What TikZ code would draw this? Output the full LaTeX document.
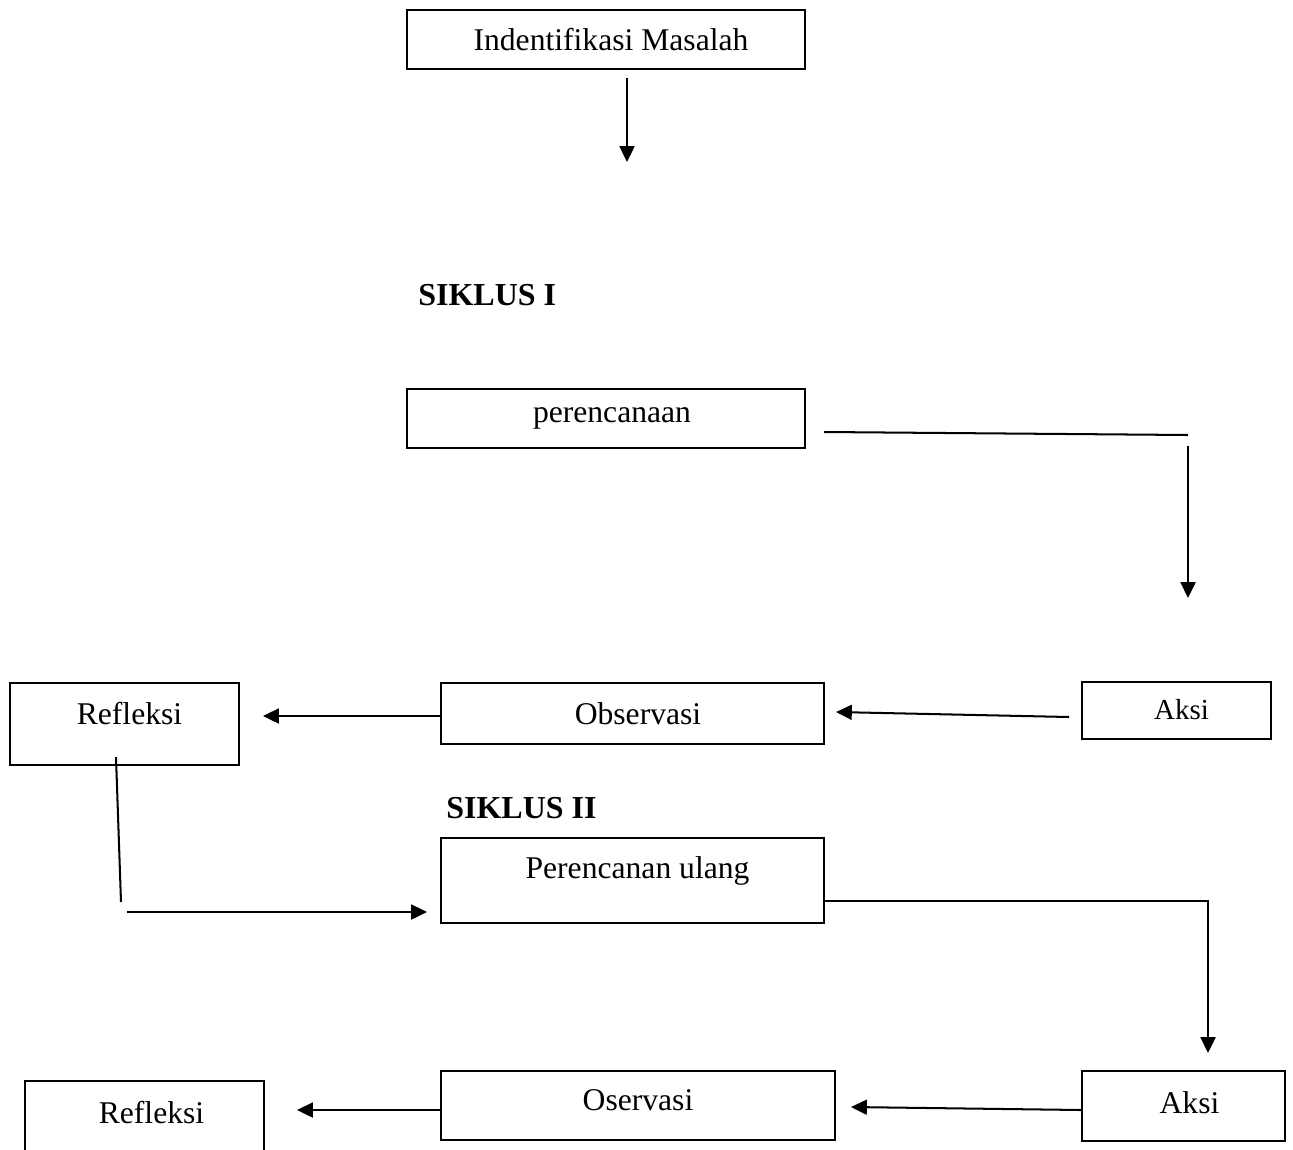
\documentclass[tikz,border=0pt]{standalone}
\usepackage{fontspec}
\setmainfont{Liberation Serif}
\usetikzlibrary{arrows.meta}
\newlength\pxl
\setlength\pxl{0.02cm}
\tikzset{
  box/.style={draw, line width=0.85pt, rectangle, inner sep=0pt, font=\fontsize{18}{22}\selectfont},
  title/.style={font=\fontsize{18.2}{22}\selectfont\bfseries, inner sep=0pt},
  arr/.style={line width=1.15pt, -{Triangle[length=9pt,width=8.5pt]}},
  ln/.style={line width=1.15pt},
}
\newcommand\up[2]{\raisebox{#1\pxl}{#2}}
\begin{document}
\begin{tikzpicture}[x=0.02cm, y=-0.02cm]
\useasboundingbox (0,0) rectangle (1293,1149);
\clip (0,0) rectangle (1293,1149);

% nodes
\node[box, minimum width=398\pxl, minimum height=59\pxl] (idm) at (606,39.5) {\hspace{10\pxl}Indentifikasi Masalah};
\node[title, anchor=west] (s1) at (418,295) {SIKLUS I};
\node[box, minimum width=398\pxl, minimum height=59\pxl] (per) at (606,418.5) {\up{3}{\hspace{12\pxl}perencanaan}};
\node[box, minimum width=189\pxl, minimum height=57\pxl, font=\fontsize{16.5}{20}\selectfont] (aksi1) at (1176.5,710.5) {\up{2}{\hspace{10\pxl}Aksi}};
\node[box, minimum width=383\pxl, minimum height=61\pxl] (obs) at (632.5,713.5) {\hspace{11\pxl}Observasi};
\node[box, minimum width=229\pxl, minimum height=82\pxl] (ref1) at (124.5,724) {\up{22}{\hspace{10\pxl}Refleksi}};
\node[title, anchor=west] (s2) at (446,808) {SIKLUS II};
\node[box, minimum width=383\pxl, minimum height=85\pxl] (pru) at (632.5,880.5) {\up{25}{\hspace{10\pxl}Perencanan ulang}};
\node[box, minimum width=203\pxl, minimum height=70\pxl] (aksi2) at (1183.5,1106) {\up{6}{\hspace{12\pxl}Aksi}};
\node[box, minimum width=394\pxl, minimum height=69\pxl] (osv) at (638,1105.5) {\up{11}{Oservasi}};
\node[box, minimum width=239\pxl, minimum height=100\pxl] (ref2) at (144.5,1131) {\up{38}{\hspace{14\pxl}Refleksi}};

% free ends
\coordinate (a1s) at (627,78);
\coordinate (a1e) at (627,162);
\coordinate (l1s) at (824,432);
\coordinate (l1e) at (1188,435);
\coordinate (a2s) at (1188,446);
\coordinate (a2e) at (1188,598);
\coordinate (a3s) at (1069,717);
\coordinate (a3e) at (836,712);
\coordinate (a4e) at (263,716);
\coordinate (l2s) at (116,757);
\coordinate (l2e) at (121,902);
\coordinate (a5s) at (127,912);
\coordinate (a5e) at (427,912);
\coordinate (c6) at (1208,901);
\coordinate (a6e) at (1208,1053);
\coordinate (a7e) at (851,1107);
\coordinate (a8e) at (297,1110);

% connectors
\draw[arr] (a1s) -- (a1e);
\draw[ln] (l1s) -- (l1e);
\draw[arr] (a2s) -- (a2e);
\draw[arr] (a3s) -- (a3e);
\draw[arr] (obs.west |- a4e) -- (a4e);
\draw[ln] (l2s) -- (l2e);
\draw[arr] (a5s) -- (a5e);
\draw[arr] (pru.east |- c6) -- (c6) -- (a6e);
\draw[arr] (aksi2.west |- 0,1110) -- (a7e);
\draw[arr] (osv.west |- a8e) -- (a8e);
\end{tikzpicture}
\end{document}
